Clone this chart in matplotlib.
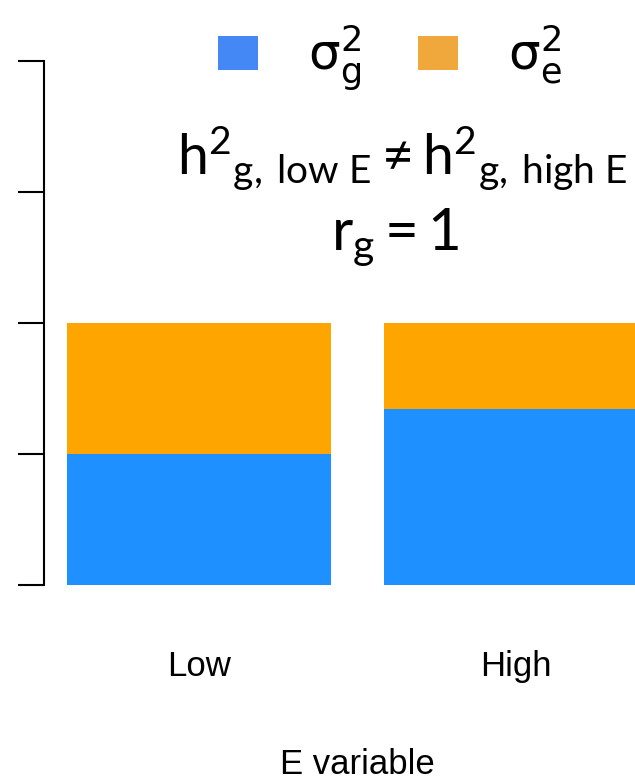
import matplotlib
matplotlib.use("Agg")
import matplotlib.pyplot as plt
from matplotlib.patches import Patch

# 데이터
env = ['Low', 'High']
sigma_g = [0.5, 0.67]
sigma_e = [0.5, 0.33]
x_pos = [0.7, 1.9]
y_ticks = [0, 0.5, 1, 1.5, 2]

plt.rcParams['font.family'] = ['Liberation Sans', 'DejaVu Sans']
plt.rcParams['mathtext.fontset'] = 'custom'
plt.rcParams['mathtext.rm'] = 'Lato'
plt.rcParams['mathtext.it'] = 'Lato:italic'
plt.rcParams['mathtext.bf'] = 'Lato:bold'

fig = plt.figure(figsize=(6.35, 7.81), dpi=100)
ax = fig.add_axes([44/635, 1 - 606/781, 627/635, 566/781])

ax.bar(x_pos, sigma_g, width=1, color='#1E90FF', edgecolor='none')
ax.bar(x_pos, sigma_e, width=1, bottom=sigma_g, color='#FFA500', edgecolor='none')

ax.set_xlim(0.112, 2.488)
ax.set_ylim(-0.08, 2.08)

for s in ['top', 'right', 'bottom']:
    ax.spines[s].set_visible(False)
ax.spines['left'].set_bounds(0, 2)
ax.spines['left'].set_linewidth(1.5)

ax.set_yticks(y_ticks)
ax.set_yticklabels([])
ax.tick_params(axis='y', length=18.7, width=1.5)

ax.set_xticks(x_pos)
ax.set_xticklabels(env, fontsize=25)
ax.tick_params(axis='x', length=0, pad=32)

ax.set_xlabel('E variable', fontsize=25)
ax.xaxis.set_label_coords(0.5, -0.25)

# 범례
handles = [Patch(facecolor='#4488F5', edgecolor='none'),
           Patch(facecolor='#F0A83C', edgecolor='none')]
labels = [r'$\mathrm{\sigma}^2_\mathrm{g}$', r'$\mathrm{\sigma}^2_\mathrm{e}$']
leg = fig.legend(handles, labels, loc='center left',
                 bbox_to_anchor=(218/635, 1 - 58/781),
                 ncol=2, frameon=False, fontsize=36,
                 handlelength=0.8, handleheight=0.67,
                 handletextpad=1.0, columnspacing=1.14,
                 borderpad=0, borderaxespad=0)
for t in leg.get_texts():
    t.set_math_fontfamily('dejavusans')

# 주석
fig.text(402/635, 1 - 174/781,
         r'$\mathrm{h}^{2}{}_{\mathrm{g,\;low\ E}}\neq\mathrm{h}^{2}{}_{\mathrm{g,\;high\ E}}$',
         ha='center', va='baseline', fontsize=40)
fig.text(395/635, 1 - 250/781, r'$\mathrm{r}_{\mathrm{g}}=1$',
         ha='center', va='baseline', fontsize=42)

fig.savefig('out.png', dpi=100)
